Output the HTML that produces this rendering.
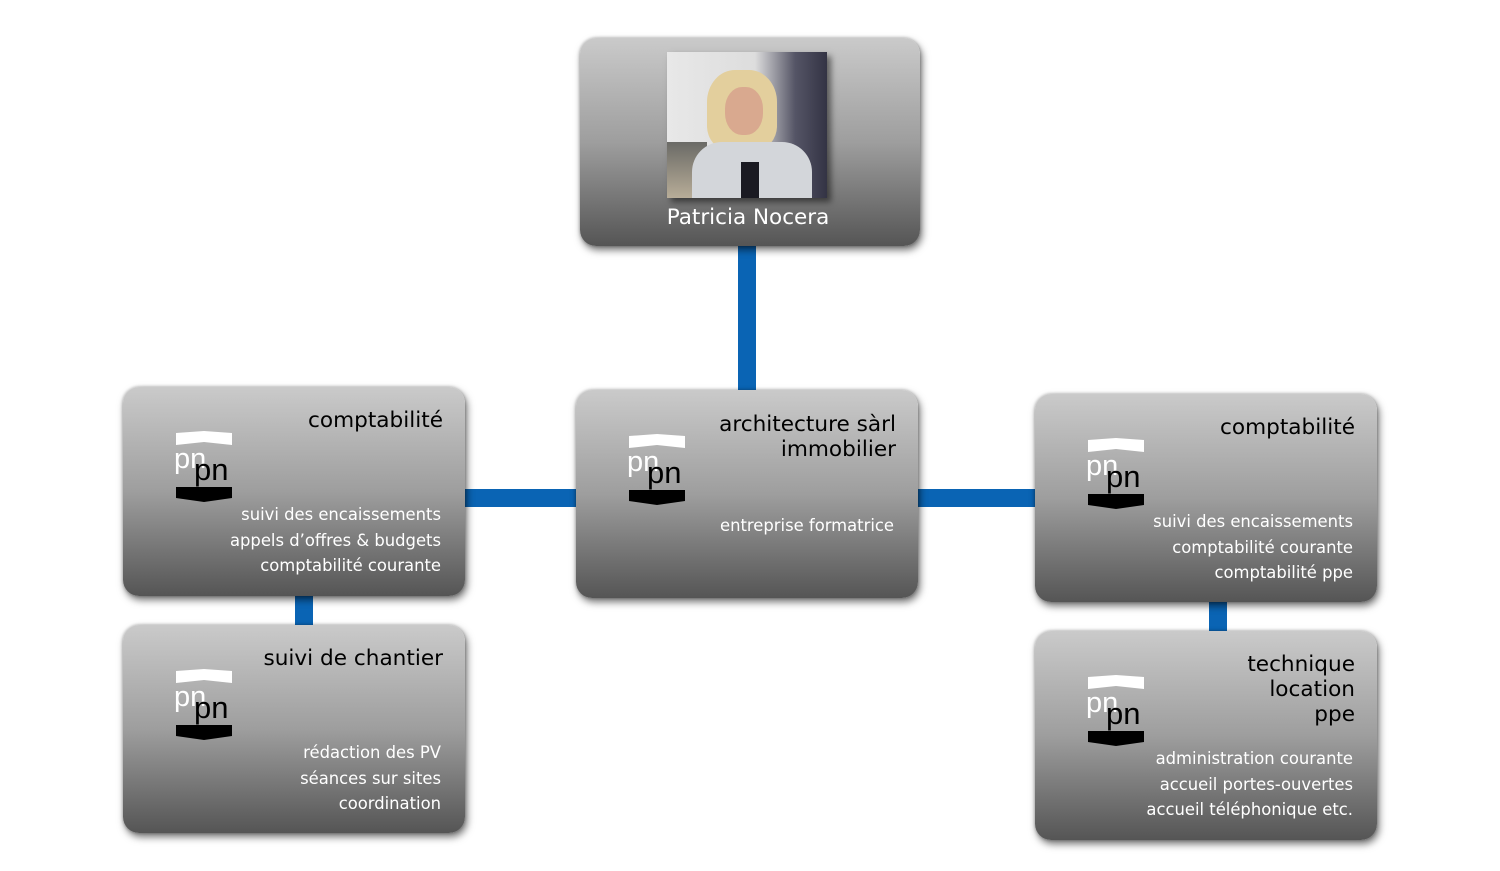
<!DOCTYPE html>
<html><head><meta charset="utf-8"><style>
body{margin:0;width:1500px;height:871px;background:#fff;position:relative;overflow:hidden;font-family:"DejaVu Sans","Liberation Sans",sans-serif}
.b{position:absolute;border-radius:16px;background:linear-gradient(#cacaca,#9e9e9e 50%,#555);box-shadow:2px 4px 8px rgba(0,0,0,.55),0 0 3px rgba(0,0,0,.3)}
.c{position:absolute;background:#0a64b4}
.t{position:absolute;right:22px;text-align:right;color:#000;font-size:21.6px;line-height:25px}
.d{position:absolute;right:24px;text-align:right;color:#fff;font-size:16.4px;line-height:25.5px}
.logo{position:absolute;left:52px;top:44px;width:58px;height:72px}
</style></head><body>
<div class="c" style="left:738px;top:240px;width:18px;height:155px"></div>
<div class="c" style="left:460px;top:489px;width:120px;height:18px"></div>
<div class="c" style="left:915px;top:489px;width:125px;height:18px"></div>
<div class="c" style="left:295px;top:590px;width:18px;height:40px"></div>
<div class="c" style="left:1209px;top:596px;width:18px;height:40px"></div>

<div class="b" style="left:580px;top:38px;width:340px;height:208px">
 <div style="position:absolute;left:87px;top:14px;width:160px;height:146px;overflow:hidden;box-shadow:4px 4px 6px rgba(0,0,0,.5);background:linear-gradient(90deg,#e8e8e8 0,#ddd 55%,#556 80%,#334 100%)">
  <div style="position:absolute;left:0;top:90px;width:40px;height:56px;background:linear-gradient(#6a6a66,#b8ad98)"></div>
  <div style="position:absolute;left:40px;top:18px;width:70px;height:80px;border-radius:40% 40% 30% 30%;background:#e3cf9d"></div>
  <div style="position:absolute;left:58px;top:35px;width:38px;height:48px;border-radius:45%;background:#d9a98f"></div>
  <div style="position:absolute;left:25px;top:90px;width:120px;height:56px;border-radius:30px 30px 0 0;background:#d3d6da"></div>
  <div style="position:absolute;left:74px;top:110px;width:18px;height:36px;background:#1a1a22"></div>
 </div>
 <div style="position:absolute;left:0;right:4px;top:167px;text-align:center;color:#fff;font-size:21.5px">Patricia Nocera</div>
</div>

<svg width="0" height="0" style="position:absolute"><defs>
<symbol id="lg" viewBox="0 0 58 72">
<path d="M1 2 L29 0 L57 2 L57 14 L29 11 L1 14Z" fill="#fff"/>
<text x="-1" y="37" font-size="29" fill="#fff" font-family="Liberation Sans,sans-serif">pn</text>
<text x="19" y="49" font-size="31" fill="#000" font-family="Liberation Sans,sans-serif">pn</text>
<path d="M1 56 L57 56 L57 67 L29 71 L1 67Z" fill="#000"/>
</symbol></defs></svg>

<div class="b" style="left:123px;top:387px;width:342px;height:209px">
 <svg class="logo"><use href="#lg"/></svg>
 <div class="t" style="top:21px">comptabilité</div>
 <div class="d" style="top:115px">suivi des encaissements<br>appels d’offres &amp; budgets<br>comptabilité courante</div>
</div>
<div class="b" style="left:576px;top:390px;width:342px;height:208px">
 <svg class="logo"><use href="#lg"/></svg>
 <div class="t" style="top:22px">architecture sàrl<br>immobilier</div>
 <div class="d" style="top:123px">entreprise formatrice</div>
</div>
<div class="b" style="left:1035px;top:394px;width:342px;height:208px">
 <svg class="logo"><use href="#lg"/></svg>
 <div class="t" style="top:21px">comptabilité</div>
 <div class="d" style="top:115px">suivi des encaissements<br>comptabilité courante<br>comptabilité ppe</div>
</div>
<div class="b" style="left:123px;top:625px;width:342px;height:208px">
 <svg class="logo"><use href="#lg"/></svg>
 <div class="t" style="top:21px">suivi de chantier</div>
 <div class="d" style="top:115px">rédaction des PV<br>séances sur sites<br>coordination</div>
</div>
<div class="b" style="left:1035px;top:631px;width:342px;height:209px">
 <svg class="logo"><use href="#lg"/></svg>
 <div class="t" style="top:21px">technique<br>location<br>ppe</div>
 <div class="d" style="top:115px">administration courante<br>accueil portes-ouvertes<br>accueil téléphonique etc.</div>
</div>
</body></html>
